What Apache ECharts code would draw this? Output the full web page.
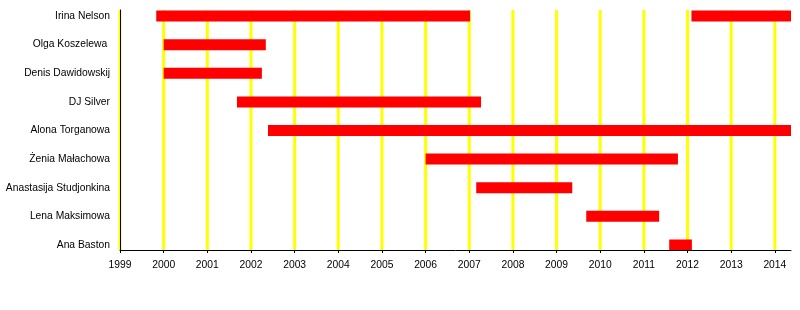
<!DOCTYPE html>
<html>
<head>
<meta charset="utf-8">
<script src="https://cdn.jsdelivr.net/npm/echarts@6/dist/echarts.min.js"></script>
<style>
html,body{margin:0;padding:0;background:#fff;}
#chart{width:800px;height:310px;}
</style>
</head>
<body>
<div id="chart"></div>
<script>
const names = ["Irina Nelson", "Olga Koszelewa ", "Denis Dawidowskij", "DJ Silver", "Alona Torganowa", "Żenia Małachowa", "Anastasija Studjonkina", "Lena Maksimowa", "Ana Baston"];
const barRows = [0, 0, 1, 2, 3, 4, 5, 6, 7, 8];
const barStarts = [1999.83, 2012.09, 2000.0, 2000.0, 2001.68, 2002.39, 2006.0, 2007.16, 2009.68, 2011.58];
const barEnds = [2007.02, 2014.37, 2002.34, 2002.25, 2007.27, 2014.37, 2011.78, 2009.36, 2011.35, 2012.10];
const years = [1999, 2000, 2001, 2002, 2003, 2004, 2005, 2006, 2007, 2008, 2009, 2010, 2011, 2012, 2013, 2014];
const xMin = 1999, xMax = 2014.37;

const barData = barRows.map((r, i) => [r, barStarts[i], barEnds[i]]);
const rowIdx = names.map((_, i) => i);

const chart = echarts.init(document.getElementById('chart'), null, {renderer: 'canvas'});
chart.setOption({
  animation: false,
  grid: {left: 120, right: 9, top: 10, bottom: 60, containLabel: false, outerBoundsMode: 'none'},
  xAxis: {
    type: 'value', min: xMin, max: xMax, interval: 1, position: 'bottom', z: 10,
    axisLine: {show: true, onZero: false, lineStyle: {color: '#000', width: 1}},
    axisTick: {show: true, length: 3, lineStyle: {color: '#000'}, customValues: years},
    axisLabel: {color: '#000', fontSize: 10.3, fontFamily: 'Liberation Sans', margin: 10, customValues: years,
      formatter: v => String(v)},
    splitLine: {show: false}
  },
  yAxis: {
    type: 'value', min: -0.21, max: 8.175, inverse: true, position: 'left', z: 10,
    axisLine: {show: true, onZero: false, lineStyle: {color: '#000', width: 1}},
    axisTick: {show: false},
    axisLabel: {color: '#000', fontSize: 10.3, fontFamily: 'Liberation Sans', margin: 10, customValues: rowIdx,
      formatter: v => names[Math.round(v)] || ''},
    splitLine: {show: false}
  },
  series: [
    {
      type: 'custom', z: 1, silent: true,
      data: years.map(y => [y]),
      encode: {x: 0},
      renderItem: (params, api) => {
        const cs = params.coordSys;
        const x = api.coord([api.value(0), 0])[0];
        return {type: 'line', shape: {x1: x, y1: cs.y, x2: x, y2: cs.y + cs.height},
          style: {stroke: '#ffff00', lineWidth: 3}};
      }
    },
    {
      type: 'custom', z: 3, silent: true,
      data: barData,
      encode: {y: 0, x: [1, 2]},
      renderItem: (params, api) => {
        const r = api.value(0);
        const p1 = api.coord([api.value(1), r]);
        const p2 = api.coord([api.value(2), r]);
        const h = 11;
        return {type: 'rect', shape: {x: p1[0], y: p1[1] - h / 2, width: p2[0] - p1[0], height: h},
          style: {fill: '#ff0000'}};
      }
    }
  ]
});
</script>
</body>
</html>
